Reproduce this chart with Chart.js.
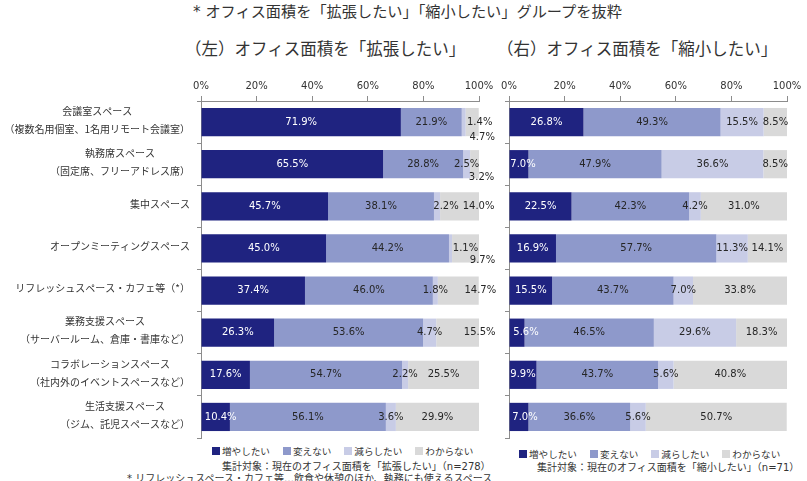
<!DOCTYPE html>
<html lang="ja">
<head>
<meta charset="utf-8">
<script src="https://cdn.jsdelivr.net/npm/chart.js@4.4.1/dist/chart.umd.min.js"></script>
<style>
  body { margin: 0; width: 807px; height: 481px; overflow: hidden; background: #fff; position: relative;
         font-family: "DejaVu Sans", "Noto Sans CJK JP", sans-serif; color: #333; }
  .txt { position: absolute; white-space: nowrap; line-height: 1; }
  .box { position: absolute; }
  .legend { position: absolute; display: flex; gap: 13px; font-size: 9.6px; line-height: 1; white-space: nowrap; }
  .legend span.sw { display: inline-block; width: 8px; height: 8px; margin-right: 2px; vertical-align: 0px; }
</style>
</head>
<body>
<div class="txt" style="left:193px; top:5px; font-size:15.2px;">* オフィス面積を「拡張したい」「縮小したい」グループを抜粋</div>
<div class="txt" style="left:185px; top:42px; font-size:16.5px;">（左）オフィス面積を「拡張したい」</div>
<div class="txt" style="left:497px; top:42px; font-size:16.5px;">（右）オフィス面積を「縮小したい」</div>

<div class="box" style="left:0; top:70px; width:500px; height:372px;"><canvas id="js--left"></canvas></div>
<div class="box" style="left:495px; top:70px; width:312px; height:372px;"><canvas id="js--right"></canvas></div>

<div class="legend" id="js--legend-left" style="left:212px; top:447px;"></div>
<div class="legend" id="js--legend-right" style="left:519px; top:450px;"></div>
<div class="txt" style="left:222px; top:462px; font-size:10px;">集計対象：現在のオフィス面積を「拡張したい」（n=278）</div>
<div class="txt" style="left:537px; top:463px; font-size:10px;">集計対象：現在のオフィス面積を「縮小したい」（n=71）</div>
<div class="txt" style="left:127px; top:474px; font-size:10px;">* リフレッシュスペース・カフェ等…飲食や休憩のほか、執務にも使えるスペース</div>

<script>
// categories (multi-line labels)
const categories = [
    ['会議室スペース', '（複数名用個室、1名用リモート会議室）'],
    ['執務席スペース', '（固定席、フリーアドレス席）'],
    ['集中スペース'],
    ['オープンミーティングスペース'],
    ['リフレッシュスペース・カフェ等（*）'],
    ['業務支援スペース', '（サーバールーム、倉庫・書庫など）'],
    ['コラボレーションスペース', '（社内外のイベントスペースなど）'],
    ['生活支援スペース', '（ジム、託児スペースなど）']
];
const seriesNames = ['増やしたい', '変えない', '減らしたい', 'わからない'];

/*左: 拡張したい (n=278)*/
const expandIncrease = [71.9, 65.5, 45.7, 45.0, 37.4, 26.3, 17.6, 10.4];
const expandSame     = [21.9, 28.8, 38.1, 44.2, 46.0, 53.6, 54.7, 56.1];
const expandDecrease = [1.4, 2.5, 2.2, 1.1, 1.8, 4.7, 2.2, 3.6];
const expandUnknown  = [4.7, 3.2, 14.0, 9.7, 14.7, 15.5, 25.5, 29.9];

/*右: 縮小したい (n=71)*/
const shrinkIncrease = [26.8, 7.0, 22.5, 16.9, 15.5, 5.6, 9.9, 7.0];
const shrinkSame     = [49.3, 47.9, 42.3, 57.7, 43.7, 46.5, 43.7, 36.6];
const shrinkDecrease = [15.5, 36.6, 4.2, 11.3, 7.0, 29.6, 5.6, 5.6];
const shrinkUnknown  = [8.5, 8.5, 31.0, 14.1, 33.8, 18.3, 40.8, 50.7];

const xTicks = [0, 20, 40, 60, 80, 100];
const colors = ['#1f2380', '#8e99cb', '#c8cce6', '#d9d9d9'];

// hand-moved data labels (dataset-row: [dx, dy])
const leftShift = {
    '2-0': [16, 0], '3-0': [10, 15], '3-1': [7, 13], '2-2': [9, 0], '3-2': [19, 0],
    '2-3': [15, 0], '3-3': [17, 12], '3-4': [22, 0], '3-5': [22, 0], '0-7': [5, 0]
};
const rightShift = { '0-1': [4, 0], '0-5': [9, 0], '0-7': [6, 0] };

function valueLabels(shift) {
    return {
        id: 'valueLabels',
        afterDatasetsDraw(chart) {
            const ctx = chart.ctx;
            ctx.save();
            ctx.font = '10px "DejaVu Sans", sans-serif';
            ctx.textAlign = 'center';
            ctx.textBaseline = 'middle';
            chart.data.datasets.forEach(function (ds, d) {
                chart.getDatasetMeta(d).data.forEach(function (bar, i) {
                    const s = shift[d + '-' + i] || [0, 0];
                    ctx.fillStyle = d === 0 ? '#ffffff' : '#262626';
                    ctx.fillText(ds.data[i].toFixed(1) + '%', (bar.x + bar.base) / 2 + s[0], bar.y + s[1]);
                });
            });
            ctx.restore();
        }
    };
}

// category labels: lines centred on each other, block right aligned
const categoryLabels = {
    id: 'categoryLabels',
    afterDraw(chart) {
        const scale = chart.scales.y;
        const ctx = chart.ctx;
        ctx.save();
        ctx.font = '10px "Noto Sans CJK JP", sans-serif';
        ctx.fillStyle = '#333';
        ctx.textAlign = 'center';
        ctx.textBaseline = 'middle';
        chart.data.labels.forEach(function (lines, i) {
            const w = Math.max.apply(null, lines.map(function (l) { return ctx.measureText(l).width; }));
            const cx = scale.right - 11 - w / 2;
            const cy = scale.getPixelForTick(i) - 2;
            lines.forEach(function (l, k) {
                ctx.fillText(l, cx, cy + (k - (lines.length - 1) / 2) * 18);
            });
        });
        ctx.restore();
    }
};

function makeDatasets(series) {
    return series.map(function (values, i) {
        return {
            label: seriesNames[i],
            data: values,
            backgroundColor: colors[i],
            borderWidth: 0,
            barPercentage: 0.67,
            categoryPercentage: 1
        };
    });
}

function makeOptions(yWidth, padRight) {
    return {
        indexAxis: 'y',
        responsive: true,
        maintainAspectRatio: false,
        animation: false,
        layout: { padding: { left: 0, right: padRight, top: 0, bottom: 4 } },
        plugins: { legend: { display: false }, tooltip: { enabled: false } },
        scales: {
            x: {
                type: 'linear',
                position: 'top',
                stacked: true,
                min: 0,
                max: 100,
                afterBuildTicks: function (s) { s.ticks = xTicks.map(function (v) { return { value: v }; }); },
                afterFit: function (s) { s.height = 31; s.paddingLeft = 0; s.paddingRight = 0; },
                ticks: {
                    color: '#333',
                    padding: 4,
                    font: { family: '"DejaVu Sans", sans-serif', size: 10 },
                    callback: function (v) { return v + '%'; }
                },
                grid: { drawOnChartArea: false, tickLength: 5, color: '#8c8c8c' },
                border: { color: '#8c8c8c' }
            },
            y: {
                type: 'category',
                stacked: true,
                afterFit: function (s) { s.width = yWidth; },
                ticks: { display: false },
                grid: { drawOnChartArea: false, offset: true, tickLength: 4, color: '#8c8c8c' },
                border: { color: '#8c8c8c' }
            }
        }
    };
}

new Chart(document.getElementById('js--left'), {
    type: 'bar',
    data: {
        labels: categories,
        datasets: makeDatasets([expandIncrease, expandSame, expandDecrease, expandUnknown])
    },
    options: makeOptions(201, 21),
    plugins: [valueLabels(leftShift), categoryLabels]
});

new Chart(document.getElementById('js--right'), {
    type: 'bar',
    data: {
        labels: categories,
        datasets: makeDatasets([shrinkIncrease, shrinkSame, shrinkDecrease, shrinkUnknown])
    },
    options: makeOptions(14, 20),
    plugins: [valueLabels(rightShift)]
});

/*legends*/
['js--legend-left', 'js--legend-right'].forEach(function (id) {
    const el = document.getElementById(id);
    seriesNames.forEach(function (name, i) {
        const item = document.createElement('span');
        item.innerHTML = '<span class="sw" style="background:' + colors[i] + '"></span>' + name;
        el.appendChild(item);
    });
});
</script>
</body>
</html>
